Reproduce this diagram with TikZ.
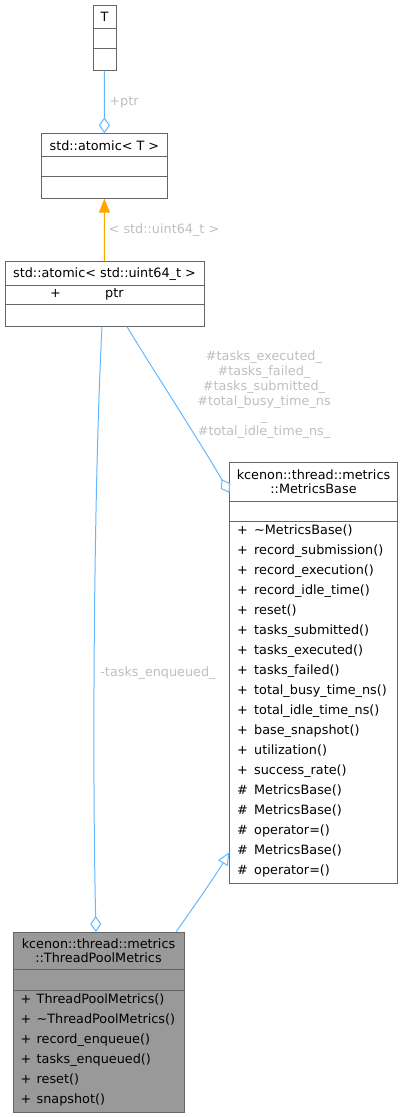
\documentclass[tikz,border=0pt]{standalone}
\usepackage{fontspec}
\setmainfont{DejaVu Sans}
\usetikzlibrary{arrows.meta,calc}
\definecolor{boxborder}{HTML}{666666}
\definecolor{edgeblue}{HTML}{63B8FF}
\definecolor{edgeorange}{HTML}{FFA500}
\definecolor{labelgray}{HTML}{BFBFBF}
\definecolor{tpmfill}{HTML}{999999}
\begin{document}
\begin{tikzpicture}[x=1pt,y=-1pt,
  umlbox/.style={draw=boxborder, line width=1pt, fill=white, anchor=north west, inner sep=0pt, outer sep=0pt},
  txt/.style={font=\fontsize{12.8}{14}\selectfont, inner sep=0pt, text=black, anchor=base},
  lbl/.style={font=\fontsize{12.8}{15}\selectfont, inner sep=0pt, text=labelgray, anchor=base},
  sep/.style={draw=boxborder, line width=1pt},
  blueedge/.style={draw=edgeblue, line width=1pt},
  orangeedge/.style={draw=edgeorange, line width=1pt, fill=edgeorange},
  aggr/.style={-{Diamond[open, length=16pt, width=11pt]}},
  inherit/.style={-{Triangle[open, length=13pt, width=11pt]}}
]
\useasboundingbox (0,0) rectangle (403,1117);

% ---- T ----
\node[umlbox, minimum width=23pt, minimum height=65.7pt] (T) at (93,5) {};
\draw[sep] (93,28.7) -- (116,28.7);
\draw[sep] (93,48.7) -- (116,48.7);
\node[txt] (Tname) at (104.5,21.5) {T};

% ---- std::atomic< T > ----
\node[umlbox, minimum width=125.3pt, minimum height=65.4pt] (aT) at (41.7,133.3) {};
\draw[sep] (41.7,156.7) -- (167,156.7);
\draw[sep] (41.7,176.7) -- (167,176.7);
\node[txt] (aTname) at (104.4,150.5) {std::atomic< T >};

% ---- std::atomic< std::uint64_t > ----
\node[umlbox, minimum width=199pt, minimum height=65.4pt] (u) at (5,261.3) {};
\draw[sep] (5,285) -- (204,285);
\draw[sep] (5,304.7) -- (204,304.7);
\node[txt] (uname) at (104.5,277.5) {std::atomic< std::uint64\_t >};
\node[txt, anchor=base west] (uplus) at (50,297.5) {+};
\node[txt, anchor=base west] (uptr) at (105,297.5) {ptr};

% ---- MetricsBase ----
\node[umlbox, minimum width=168pt, minimum height=420.3pt] (mb) at (229.5,462.7) {};
\draw[sep] (229.5,501) -- (397.5,501);
\draw[sep] (229.5,521) -- (397.5,521);
\node[txt] (mbh1) at (313.5,479.5) {kcenon::thread::metrics};
\node[txt] (mbh2) at (313.5,493.5) {::MetricsBase};
\foreach \s/\n [count=\i from 0] in {
  +/\textasciitilde MetricsBase(),
  +/record\_submission(),
  +/record\_execution(),
  +/record\_idle\_time(),
  +/reset(),
  +/tasks\_submitted(),
  +/tasks\_executed(),
  +/tasks\_failed(),
  +/total\_busy\_time\_ns(),
  +/total\_idle\_time\_ns(),
  +/base\_snapshot(),
  +/utilization(),
  +/success\_rate(),
  \#/MetricsBase(),
  \#/MetricsBase(),
  \#/operator=(),
  \#/MetricsBase(),
  \#/operator=()}{
  \node[txt, anchor=base west] (mbs\i) at (237,{534.5+20*\i}) {\s};
  \node[txt, anchor=base west] (mbn\i) at (254,{534.5+20*\i}) {\n};
}

% ---- ThreadPoolMetrics ----
\node[umlbox, fill=tpmfill, minimum width=171pt, minimum height=180pt] (tpm) at (13,932) {};
\draw[sep] (13,969) -- (184,969);
\draw[sep] (13,990) -- (184,990);
\node[txt] (tpmh1) at (98.5,948.5) {kcenon::thread::metrics};
\node[txt] (tpmh2) at (98.5,962.5) {::ThreadPoolMetrics};
\foreach \n [count=\i from 0] in {
  ThreadPoolMetrics(),
  \textasciitilde ThreadPoolMetrics(),
  record\_enqueue(),
  tasks\_enqueued(),
  reset(),
  snapshot()}{
  \node[txt, anchor=base west] (tps\i) at (20.5,{1003.5+20*\i}) {+};
  \node[txt, anchor=base west] (tpn\i) at (36.5,{1003.5+20*\i}) {\n};
}

% ---- edges ----
\draw[blueedge, aggr] (T) -- (aT);
\node[lbl] (lptr) at (124,105.5) {+ptr};

\draw[orangeedge, -{Triangle[length=14pt, width=11pt]}] (u) -- (aT);
\node[lbl] (ltmpl) at (164,233.5) {< std::uint64\_t >};

\draw[blueedge, aggr] ($(u.south)+(22.5,0)$) .. controls (152,368) and (205,450) .. ($(mb.north west)+(0,30.3)$);
\node[lbl] (l1) at (264,360.5) {\#tasks\_executed\_};
\node[lbl] (l2) at (264,375.5) {\#tasks\_failed\_};
\node[lbl] (l3) at (264,390.5) {\#tasks\_submitted\_};
\node[lbl] (l4) at (264,405.5) {\#total\_busy\_time\_ns};
\node[lbl] (l5) at (264,420.5) {\_};
\node[lbl] (l6) at (264,435.5) {\#total\_idle\_time\_ns\_};

\draw[blueedge, aggr] ($(u.south)+(-2.5,0)$) .. controls (94,480) and (92,760) .. ($(tpm.north)+(-2.5,0)$);
\node[lbl] (lenq) at (158,676.5) {-tasks\_enqueued\_};

\draw[blueedge, inherit] ($(tpm.north)+(77.5,0)$) .. controls (190,912) and (214,878) .. ($(mb.south west)+(0,-31)$);
\end{tikzpicture}
\end{document}
